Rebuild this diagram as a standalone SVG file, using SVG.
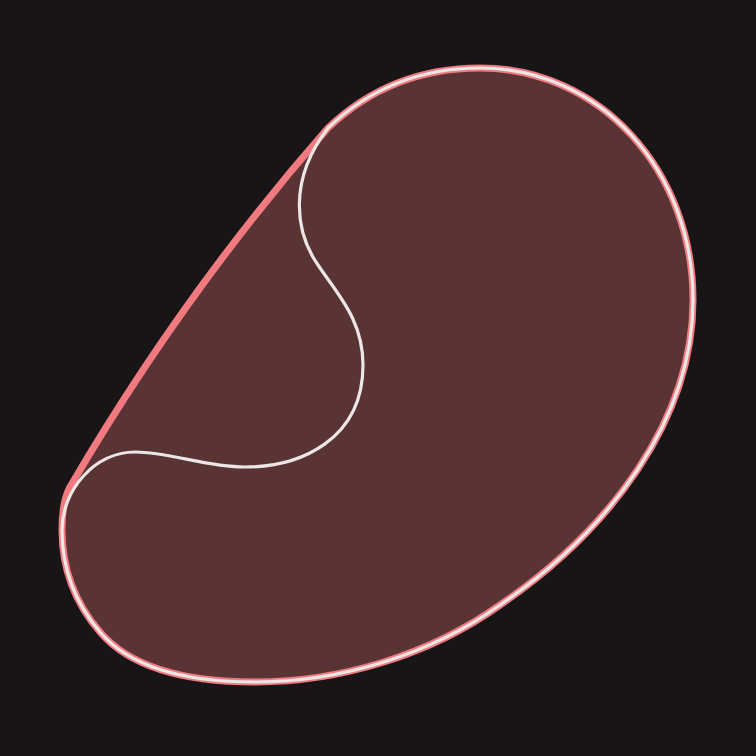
<svg xmlns="http://www.w3.org/2000/svg" width="756" height="756" viewBox="0 0 756 756">
<style>
.hull{fill:#5a3335;stroke:#f07a80;stroke-width:7;stroke-linejoin:round}
.kid{fill:none;stroke:#ece7e4;stroke-width:3.2;stroke-linejoin:round}
</style>
<rect width="756" height="756" fill="#181516"/>
<g id="hull">
<path class="hull" d="M 328,128 C 370,88 420,68 480,68 C 600,68 693,170 693,300 C 693,420 610,530 500,605 C 430,655 340,682 255,682 C 180,682 128,665 100,632 C 75,603 62,570 62,530 C 62,512 64,498 70,487 Q 184,292 328,128 Z"/>
</g>
<g id="shape">
<path class="kid" d="M 328,128 C 370,88 420,68 480,68 C 600,68 693,170 693,300 C 693,420 610,530 500,605 C 430,655 340,682 255,682 C 180,682 128,665 100,632 C 75,603 62,570 62,530 C 62,490 95,452 135,452 C 170,452 205,467 245,467 C 300,467 363,440 363,365 C 363,320 338,295 318,265 C 295,232 288,180 328,128 Z"/>
</g>
</svg>
